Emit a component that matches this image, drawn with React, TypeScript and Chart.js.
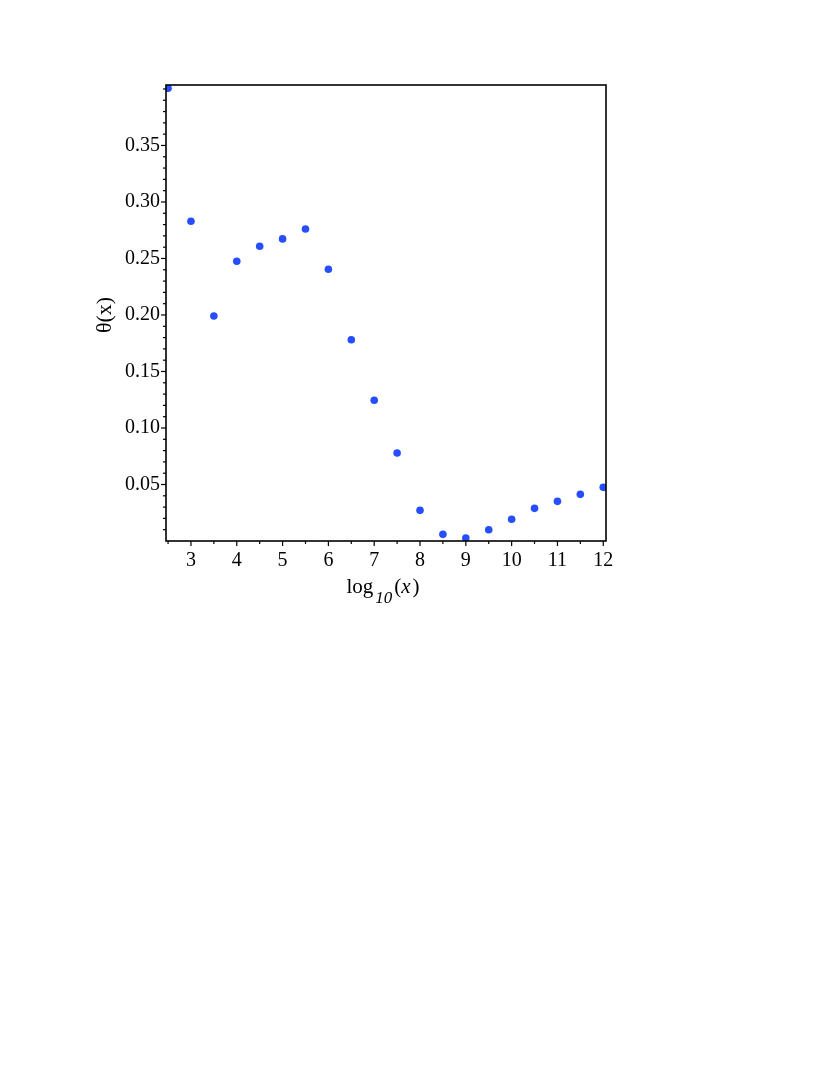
import React, { useEffect, useRef } from "react";
import { Chart, registerables } from "chart.js";

Chart.register(...registerables);

const xValues = [2.5, 3, 3.5, 4, 4.5, 5, 5.5, 6, 6.5, 7, 7.5, 8, 8.5, 9, 9.5, 10, 10.5, 11, 11.5, 12];
const thetaValues = [0.4006, 0.2829, 0.1991, 0.2475, 0.2608, 0.2673, 0.2761, 0.2404, 0.1781, 0.1245, 0.0779, 0.0271, 0.0059, 0.0027, 0.0100, 0.0192, 0.0289, 0.0351, 0.0413, 0.0475];
const xTickValues = [2.5, 3, 3.5, 4, 4.5, 5, 5.5, 6, 6.5, 7, 7.5, 8, 8.5, 9, 9.5, 10, 10.5, 11, 11.5, 12];
const xTickLabels = ["", "3", "", "4", "", "5", "", "6", "", "7", "", "8", "", "9", "", "10", "", "11", "", "12"];
const yTickValues = [0.01, 0.02, 0.03, 0.04, 0.05, 0.06, 0.07, 0.08, 0.09, 0.1, 0.11, 0.12, 0.13, 0.14, 0.15, 0.16, 0.17, 0.18, 0.19, 0.2, 0.21, 0.22, 0.23, 0.24, 0.25, 0.26, 0.27, 0.28, 0.29, 0.3, 0.31, 0.32, 0.33, 0.34, 0.35, 0.36, 0.37, 0.38, 0.39, 0.4];
const yTickLabels = ["", "", "", "", "0.05", "", "", "", "", "0.10", "", "", "", "", "0.15", "", "", "", "", "0.20", "", "", "", "", "0.25", "", "", "", "", "0.30", "", "", "", "", "0.35", "", "", "", "", ""];

const SERIF = "'Liberation Serif', 'DejaVu Serif', serif";

const framePlugin = {
  id: "framePlugin",
  afterDraw(chart: any) {
    const ctx = chart.ctx;
    const { left, right, top, bottom } = chart.chartArea;
    const xs = chart.scales.x;
    const ys = chart.scales.y;
    ctx.save();
    ctx.strokeStyle = "#000";
    ctx.lineWidth = 1.2;
    xs.ticks.forEach((t: any, i: number) => {
      const px = xs.getPixelForValue(t.value);
      const len = xTickLabels[i] ? 5 : 3;
      ctx.beginPath();
      ctx.moveTo(px, bottom);
      ctx.lineTo(px, bottom + len);
      ctx.stroke();
    });
    ys.ticks.forEach((t: any, i: number) => {
      const py = ys.getPixelForValue(t.value);
      const len = yTickLabels[i] ? 5 : 3;
      ctx.beginPath();
      ctx.moveTo(left, py);
      ctx.lineTo(left - len, py);
      ctx.stroke();
    });
    ctx.lineWidth = 1.6;
    ctx.strokeRect(left, top, right - left, bottom - top);

    // x title: log_10(x)
    ctx.fillStyle = "#000";
    ctx.textBaseline = "alphabetic";
    ctx.textAlign = "left";
    const cx = (left + right) / 2;
    const base = bottom + 52;
    const mainFont = `21px ${SERIF}`;
    const subFont = `italic 17px ${SERIF}`;
    const itFont = `italic 21px ${SERIF}`;
    ctx.font = mainFont;
    const wLog = ctx.measureText("log").width;
    ctx.font = subFont;
    const wSub = ctx.measureText("10").width;
    ctx.font = mainFont;
    const wP = ctx.measureText("(").width;
    ctx.font = itFont;
    const wX = ctx.measureText("x").width;
    const total = wLog + 2 + wSub + 2 + wP + wX + 2 + wP;
    let x0 = cx - 3 - total / 2;
    ctx.font = mainFont;
    ctx.fillText("log", x0, base);
    x0 += wLog + 2;
    ctx.font = subFont;
    ctx.fillText("10", x0, base + 10);
    x0 += wSub + 2;
    ctx.font = mainFont;
    ctx.fillText("(", x0, base);
    x0 += wP;
    ctx.font = itFont;
    ctx.fillText("x", x0, base);
    x0 += wX + 2;
    ctx.font = mainFont;
    ctx.fillText(")", x0, base);

    // y title
    ctx.save();
    ctx.translate(left - 61, (top + bottom) / 2 + 2);
    ctx.rotate(-Math.PI / 2);
    ctx.textAlign = "center";
    ctx.textBaseline = "middle";
    ctx.font = `22px ${SERIF}`;
    ctx.fillText("θ(x)", 0, 0);
    ctx.restore();

    ctx.restore();
  },
};

export default function App() {
  const canvasRef = useRef<HTMLCanvasElement | null>(null);

  useEffect(() => {
    if (!canvasRef.current) return;
    const chart = new Chart(canvasRef.current, {
      type: "scatter",
      data: {
        datasets: [
          {
            data: xValues.map((x, i) => ({ x, y: thetaValues[i] })),
            backgroundColor: "rgb(38,78,255)",
            borderColor: "rgb(38,78,255)",
            borderWidth: 0,
            pointRadius: 3.8,
            pointStyle: "circle",
          },
        ],
      },
      options: {
        responsive: false,
        animation: false,
        layout: { padding: { top: 85, right: 224, left: 0, bottom: 0 } },
        plugins: { legend: { display: false }, tooltip: { enabled: false } },
        scales: {
          x: {
            type: "linear",
            min: 2.455,
            max: 12.06,
            afterBuildTicks: (scale: any) => {
              scale.ticks = xTickValues.map((v) => ({ value: v }));
            },
            afterFit: (scale: any) => {
              scale.height = 99;
            },
            grid: { display: false, drawTicks: false },
            border: { display: false },
            ticks: {
              autoSkip: false,
              maxRotation: 0,
              padding: 8,
              color: "#000",
              font: { family: SERIF, size: 20 },
              callback: (_v: any, i: number) => xTickLabels[i],
            },
          },
          y: {
            type: "linear",
            min: 0,
            max: 0.4035,
            afterBuildTicks: (scale: any) => {
              scale.ticks = yTickValues.map((v) => ({ value: v }));
            },
            afterFit: (scale: any) => {
              scale.width = 166;
            },
            grid: { display: false, drawTicks: false },
            border: { display: false },
            ticks: {
              autoSkip: false,
              padding: 6,
              color: "#000",
              font: { family: SERIF, size: 20 },
              callback: (_v: any, i: number) => yTickLabels[i],
            },
          },
        },
      },
      plugins: [framePlugin],
    });
    return () => chart.destroy();
  }, []);

  return (
    <div style={{ position: "absolute", left: 0, top: 0 }}>
      <canvas ref={canvasRef} width={830} height={640} style={{ display: "block" }} />
    </div>
  );
}
